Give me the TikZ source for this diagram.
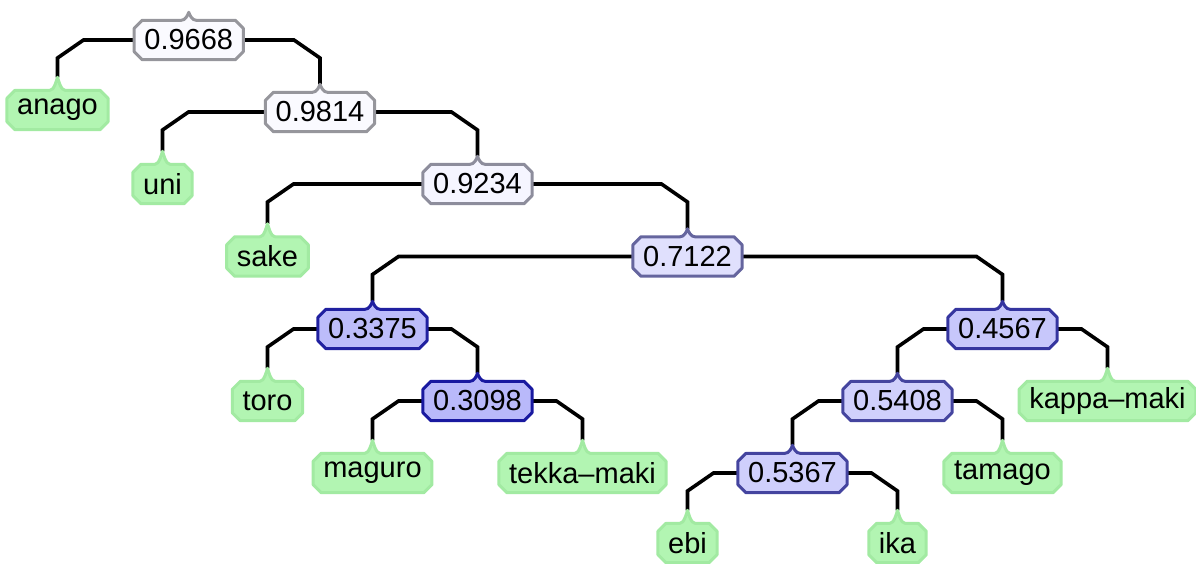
\documentclass[tikz,border=0pt]{standalone}
\usepackage{fontspec}
\setmainfont{Liberation Sans}
\usetikzlibrary{calc}
\usetikzlibrary{backgrounds}

\pgfdeclarelayer{links}
\pgfsetlayers{links,background,main}

\definecolor{leaffill}{RGB}{178,245,178}
\definecolor{leafline}{RGB}{162,234,162}
\definecolor{hiline}{RGB}{150,150,156}
\definecolor{loline}{RGB}{24,24,160}
\definecolor{hifill}{RGB}{250,250,255}
\definecolor{lofill}{RGB}{184,184,250}

\tikzset{
    box/.style = {rectangle, minimum height=39pt, inner xsep=10pt, font=\fontsize{29pt}{34pt}\selectfont},
    frame/.style = {line width=3pt, line join=round},
    branch/.style = {line width=3.6pt, black, line join=miter},
    lbranch/.style = {branch, to path={-- ($(\tikztotarget |- \tikztostart)+(26,0)$)
                       -- ($(\tikztotarget |- \tikztostart)+(0,18)$) -- (\tikztotarget)}},
    rbranch/.style = {branch, to path={-- ($(\tikztotarget |- \tikztostart)+(-26,0)$)
                       -- ($(\tikztotarget |- \tikztostart)+(0,18)$) -- (\tikztotarget)}}
}

% chamfered frame with a small pointer on top: #1 node, #2 line, #3 fill, #4 pointer height
\newcommand{\tagframe}[4]{%
  \filldraw[frame, draw=#2, fill=#3]
    ([xshift=8pt]#1.north west) -- ([xshift=-7.5pt]#1.north)
    .. controls ([xshift=-3pt]#1.north) and ([xshift=-1pt,yshift=#4pt-2.5pt]#1.north) .. ([yshift=#4pt]#1.north)
    .. controls ([xshift=1pt,yshift=#4pt-2.5pt]#1.north) and ([xshift=3pt]#1.north) .. ([xshift=7.5pt]#1.north)
    -- ([xshift=-8pt]#1.north east) -- ([yshift=-8pt]#1.north east)
    -- ([yshift=8pt]#1.south east) -- ([xshift=-8pt]#1.south east)
    -- ([xshift=8pt]#1.south west) -- ([yshift=8pt]#1.south west)
    -- ([yshift=-8pt]#1.north west) -- cycle;
  \coordinate (#1-tip) at ([yshift=#4pt]#1.north);}

\begin{document}
\begin{tikzpicture}[x=1pt, y=-1pt]
\useasboundingbox (0,0) rectangle (1196,563);
%
\node[box] at (188.75,40) (c1) {0.9668};
\node[box] at (57.5,110) (anago) {anago};
\node[box] at (320,112) (c2) {0.9814};
\node[box] at (162.5,184) (uni) {uni};
\node[box] at (477.5,184) (c3) {0.9234};
\node[box] at (267.5,256.5) (sake) {sake};
\node[box] at (687.5,256.5) (c4) {0.7122};
\node[box] at (372.5,329) (c5) {0.3375};
\node[box] at (1002.5,329) (c7) {0.4567};
\node[box] at (267.5,401) (toro) {toro};
\node[box] at (477.5,401) (c6) {0.3098};
\node[box] at (897.5,401) (c8) {0.5408};
\node[box] at (1107.5,401) (kappa) {kappa–maki};
\node[box] at (372.5,473) (maguro) {maguro};
\node[box] at (582.5,473) (tekka) {tekka–maki};
\node[box] at (792.5,473) (c9) {0.5367};
\node[box] at (1002.5,473) (tamago) {tamago};
\node[box] at (687.5,543) (ebi) {ebi};
\node[box] at (897.5,543) (ika) {ika};
%
\begin{pgfonlayer}{background}
\foreach \n/\p in {c1/100,c2/100,c3/93,c4/61,c5/6,c6/1,c7/23,c8/36,c9/35}
  \tagframe{\n}{hiline!\p!loline}{hifill!\p!lofill}{8};
\foreach \n in {anago,uni,sake,toro,maguro,tekka,kappa,tamago,ebi,ika}
  \tagframe{\n}{leafline}{leaffill}{13};
\end{pgfonlayer}
%
\begin{pgfonlayer}{links}
\draw[lbranch] (c1) to (anago-tip);
\draw[rbranch] (c1) to (c2-tip);
\draw[lbranch] (c2) to (uni-tip);
\draw[rbranch] (c2) to (c3-tip);
\draw[lbranch] (c3) to (sake-tip);
\draw[rbranch] (c3) to (c4-tip);
\draw[lbranch] (c4) to (c5-tip);
\draw[rbranch] (c4) to (c7-tip);
\draw[lbranch] (c5) to (toro-tip);
\draw[rbranch] (c5) to (c6-tip);
\draw[lbranch] (c6) to (maguro-tip);
\draw[rbranch] (c6) to (tekka-tip);
\draw[lbranch] (c7) to (c8-tip);
\draw[rbranch] (c7) to (kappa-tip);
\draw[lbranch] (c8) to (c9-tip);
\draw[rbranch] (c8) to (tamago-tip);
\draw[lbranch] (c9) to (ebi-tip);
\draw[rbranch] (c9) to (ika-tip);
\end{pgfonlayer}

\end{tikzpicture}
\end{document}
